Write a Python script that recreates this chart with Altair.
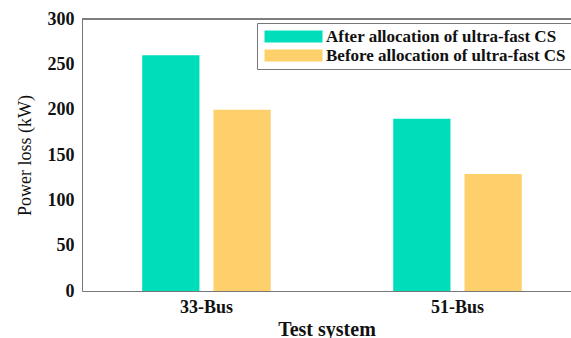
import altair as alt
import pandas as pd

systems = ["33-Bus", "33-Bus", "51-Bus", "51-Bus"]
series = ["After allocation of ultra-fast CS", "Before allocation of ultra-fast CS",
          "After allocation of ultra-fast CS", "Before allocation of ultra-fast CS"]
loss = [260, 200, 190, 129]
series_order = ["After allocation of ultra-fast CS", "Before allocation of ultra-fast CS"]
colors = ["#00DDBB", "#FDD06B"]
y_ticks = [0, 50, 100, 150, 200, 250, 300]

df = pd.DataFrame({"system": systems, "series": series, "loss": loss})

FONT = "Liberation Serif"

bars = alt.Chart(df).mark_bar().encode(
    x=alt.X("system:N", title="Test system",
            scale=alt.Scale(paddingInner=0.488, paddingOuter=0.218, align=0.55),
            axis=alt.Axis(labelAngle=0, ticks=False, labelPadding=7, titlePadding=3,
                          labelFont=FONT, labelFontSize=18, labelFontWeight="bold",
                          titleFont=FONT, titleFontSize=20, titleFontWeight="bold",
                          labelColor="#111", titleColor="#111",
                          domainColor="#777", grid=False)),
    xOffset=alt.XOffset("series:N", sort=series_order,
                        scale=alt.Scale(paddingInner=0.197, paddingOuter=0)),
    y=alt.Y("loss:Q", title="Power loss (kW)",
            scale=alt.Scale(domain=[0, 300], nice=False),
            axis=alt.Axis(values=y_ticks, ticks=False, labelPadding=8, titlePadding=13,
                          labelFont=FONT, labelFontSize=18, labelFontWeight="bold",
                          titleFont=FONT, titleFontSize=18, titleFontWeight="normal",
                          labelColor="#111", titleColor="#111",
                          domainColor="#777", grid=False)),
    color=alt.Color("series:N", sort=series_order,
                    scale=alt.Scale(domain=series_order, range=colors),
                    legend=alt.Legend(title=None, orient="none", legendX=175, legendY=4,
                                      symbolType="M-1,-1H8.67V1H-1Z", symbolSize=144,
                                      symbolStrokeWidth=0, labelFont=FONT,
                                      labelFontSize=17, labelFontWeight="bold",
                                      labelColor="#111", labelOffset=47, rowPadding=1,
                                      padding=5, strokeColor="#777", fillColor="white",
                                      labelLimit=400)),
)

top_line = alt.Chart(df).mark_rule(color="#777", strokeWidth=1).encode(
    x=alt.value(0), x2=alt.value(489), y=alt.value(0)
)

chart = alt.layer(bars, top_line).properties(
    width=489, height=272,
    padding={"left": 82, "top": 19, "right": 0, "bottom": 47},
    autosize=alt.AutoSizeParams(type="none"),
).configure_view(stroke=None).configure(background="white")

chart.save("out.html", embed_options={"renderer": "svg", "actions": False})
